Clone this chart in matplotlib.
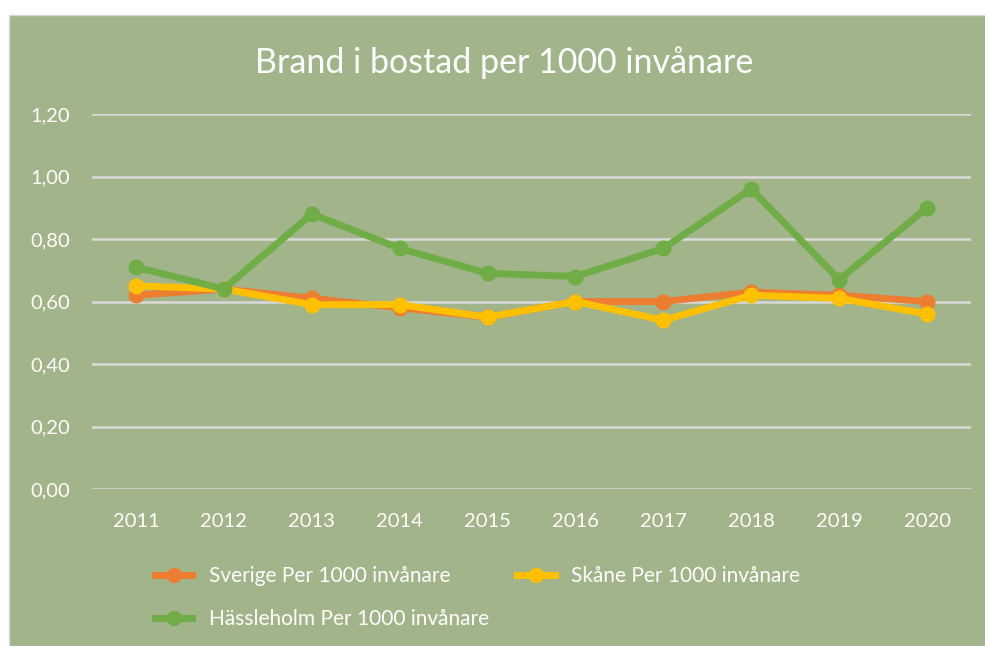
import matplotlib.pyplot as plt
from matplotlib.patches import Rectangle

years = ["2011", "2012", "2013", "2014", "2015", "2016", "2017", "2018", "2019", "2020"]
sverige = [0.62, 0.64, 0.61, 0.58, 0.55, 0.60, 0.60, 0.63, 0.62, 0.60]
skane = [0.65, 0.64, 0.59, 0.59, 0.55, 0.60, 0.54, 0.62, 0.61, 0.56]
hassleholm = [0.71, 0.64, 0.88, 0.77, 0.69, 0.68, 0.77, 0.96, 0.67, 0.90]
labels = ["Sverige Per 1000 invånare", "Skåne Per 1000 invånare",
          "Hässleholm Per 1000 invånare"]
yticks = [0.0, 0.2, 0.4, 0.6, 0.8, 1.0, 1.2]

bg = "#A2B58A"
txt = "white"
plt.rcParams['font.family'] = ['Lato', 'DejaVu Sans']

fig = plt.figure(figsize=(9.85, 6.46), dpi=100)
fig.patch.set_facecolor("white")
# chart area box
fig.patches.append(Rectangle((9 / 985, 0), 1, 1 - 15 / 646, transform=fig.transFigure,
                             facecolor=bg, edgecolor="#D9D9D9", linewidth=1, zorder=-5))

ax = fig.add_axes([92 / 985, 1 - 489 / 646, (971 - 92) / 985, (489 - 114) / 646])
ax.set_facecolor(bg)
ax.patch.set_alpha(0)

x = range(len(years))
h1, = ax.plot(x, sverige, color="#ED7D31", lw=5, marker="o", ms=10.5, zorder=3)
h2, = ax.plot(x, skane, color="#FFC000", lw=5, marker="o", ms=10.5, zorder=4)
h3, = ax.plot(x, hassleholm, color="#70AD47", lw=5, marker="o", ms=10.5, zorder=5)

ax.set_xlim(-0.5, len(years) - 0.5)
ax.set_ylim(0, 1.2)
ax.set_xticks(list(x))
ax.set_xticklabels(years)
ax.set_yticks(yticks)
ax.set_yticklabels(["{:.2f}".format(v).replace(".", ",") for v in yticks])
ax.tick_params(axis="both", length=0, colors=txt, labelsize=14.5)
ax.tick_params(axis="y", pad=16)
ax.tick_params(axis="x", pad=17)
ax.grid(axis="y", color="#D9D9D9", lw=1.8, zorder=1)
ax.set_axisbelow(True)
for s in ax.spines.values():
    s.set_visible(False)

fig.text(0.512, 1 - 63 / 646, "Brand i bostad per 1000 invånare", color=txt,
         fontsize=24.5, ha="center", va="center")

leg1 = fig.legend([h1, h2], labels[:2], ncol=2, loc="center left",
                  bbox_to_anchor=(136 / 985, 1 - 576 / 646), frameon=False,
                  fontsize=15, labelcolor=txt, handlelength=1.8, handletextpad=0.8,
                  columnspacing=3.2, markerscale=0.95)
leg2 = fig.legend([h3], labels[2:], loc="center left",
                  bbox_to_anchor=(136 / 985, 1 - 619 / 646), frameon=False,
                  fontsize=15, labelcolor=txt, handlelength=1.8, handletextpad=0.8,
                  markerscale=0.95)

fig.savefig("out.png", dpi=100, facecolor=fig.get_facecolor())
